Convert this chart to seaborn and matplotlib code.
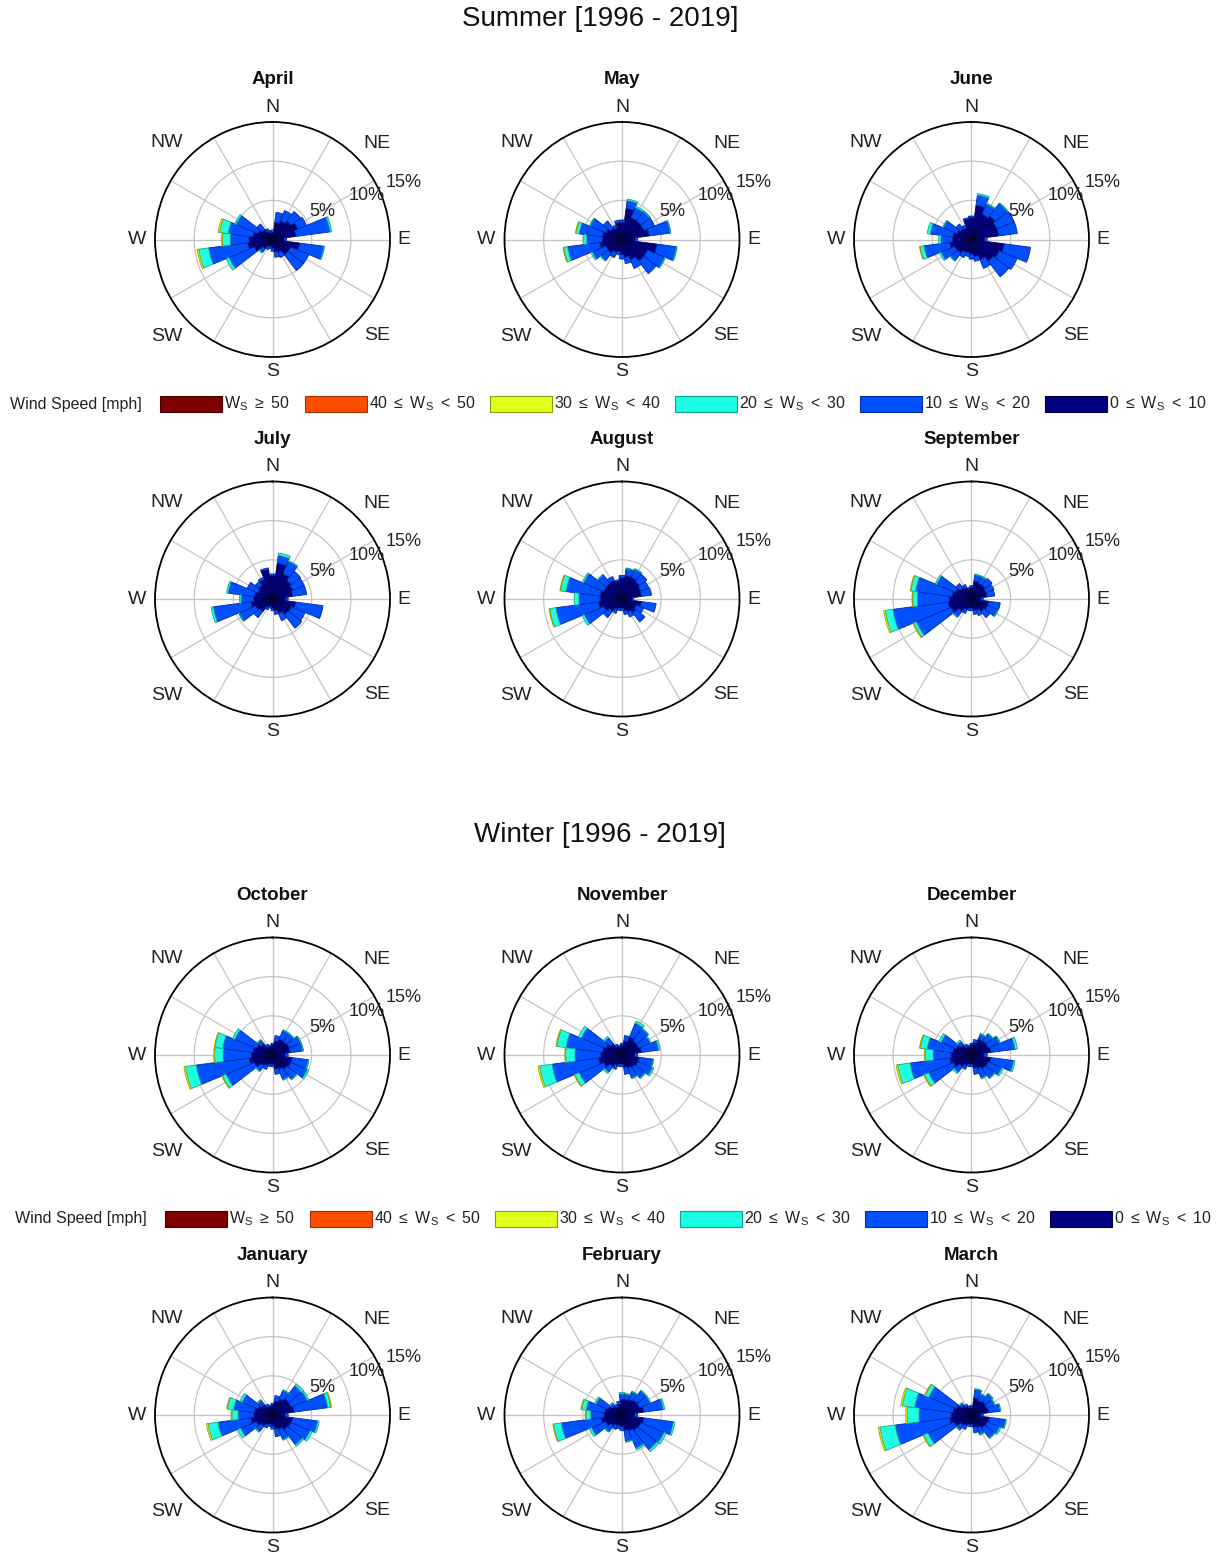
import numpy as np
import matplotlib
matplotlib.use("Agg")
import matplotlib.pyplot as plt
import seaborn as sns
from matplotlib.patches import Rectangle

# ---------------- data (percent of time, 24 direction bins, bearing 0..345 step 15) -------------
directions = [0, 15, 30, 45, 60, 75, 90, 105, 120, 135, 150, 165,
              180, 195, 210, 225, 240, 255, 270, 285, 300, 315, 330, 345]

speed_labels = [r"$\mathrm{W_S\ \geq\ 50}$", r"$\mathrm{40\ \leq\ W_S\ <\ 50}$",
                r"$\mathrm{30\ \leq\ W_S\ <\ 40}$", r"$\mathrm{20\ \leq\ W_S\ <\ 30}$",
                r"$\mathrm{10\ \leq\ W_S\ <\ 20}$", r"$\mathrm{0\ \leq\ W_S\ <\ 10}$"]

apr_0_10 = [0.9, 2.2, 2.6, 3.0, 3.5, 3.0, 1.5, 3.5, 2.5, 2.5, 1.8, 1.6, 1.1, 0.9, 1.0, 1.5, 2.5, 3.2, 3.0, 2.5, 2.0, 1.6, 1.1, 0.9]
apr_10_20 = [0.3, 1.3, 1.4, 1.5, 1.2, 4.4, 0.3, 3.1, 2.5, 2.5, 0.7, 0.7, 0.4, 0.3, 0.4, 0.6, 3.5, 5.0, 2.4, 3.2, 3.0, 0.9, 0.4, 0.3]
apr_20_30 = [0, 0, 0, 0, 0, 0.2, 0, 0.1, 0, 0, 0, 0, 0, 0, 0, 0.1, 0.4, 1.3, 1.0, 1.1, 0.2, 0, 0, 0]
apr_30_40 = [0, 0, 0, 0, 0, 0, 0, 0, 0, 0, 0, 0, 0, 0, 0, 0, 0, 0.2, 0.1, 0.2, 0, 0, 0, 0]

may_0_10 = [2.2, 4.0, 3.0, 3.0, 3.0, 3.5, 1.7, 4.5, 3.5, 3.5, 2.8, 2.3, 1.9, 1.6, 1.8, 2.2, 2.2, 2.9, 2.5, 2.5, 2.2, 1.8, 1.6, 2.2]
may_10_20 = [0.3, 1.0, 1.4, 1.5, 1.5, 2.7, 0.3, 2.5, 2.4, 2.0, 1.2, 0.8, 0.6, 0.4, 0.7, 1.2, 1.9, 4.1, 2.0, 3.0, 2.2, 1.2, 0.4, 0.3]
may_20_30 = [0, 0.2, 0.2, 0.1, 0, 0.1, 0, 0.1, 0.1, 0, 0, 0, 0, 0, 0, 0.1, 0.2, 0.5, 0.4, 0.4, 0.1, 0, 0, 0]
may_30_40 = [0, 0, 0, 0, 0, 0, 0, 0, 0, 0, 0, 0, 0, 0, 0, 0, 0, 0.1, 0, 0.1, 0, 0, 0, 0]

jun_0_10 = [2.8, 4.4, 3.5, 3.8, 3.5, 3.5, 1.7, 4.2, 3.8, 3.5, 2.8, 2.2, 1.9, 1.7, 1.8, 2.2, 2.3, 2.8, 2.4, 2.4, 2.0, 1.7, 1.6, 2.6]
jun_10_20 = [0.2, 1.3, 1.4, 2.0, 2.4, 2.4, 0.3, 3.4, 2.5, 2.5, 1.2, 0.6, 0.6, 0.5, 0.7, 1.2, 1.9, 3.3, 1.5, 2.9, 1.9, 0.8, 0.4, 0.2]
jun_20_30 = [0, 0.2, 0.1, 0.1, 0, 0, 0, 0, 0, 0, 0, 0, 0, 0, 0, 0.1, 0.2, 0.5, 0.3, 0.4, 0.1, 0, 0, 0]
jun_30_40 = [0, 0, 0, 0, 0, 0, 0, 0, 0, 0, 0, 0, 0, 0, 0, 0, 0, 0.1, 0, 0, 0, 0, 0, 0]

jul_0_10 = [3.0, 4.6, 3.5, 3.0, 2.8, 2.6, 1.7, 3.0, 2.6, 2.5, 2.0, 1.5, 1.2, 1.0, 1.2, 2.0, 2.3, 2.8, 2.4, 2.3, 2.0, 2.2, 2.7, 3.8]
jul_10_20 = [0.2, 1.0, 1.7, 1.5, 1.6, 1.8, 0.3, 3.5, 1.9, 2.2, 1.0, 0.5, 0.3, 0.2, 0.3, 1.0, 2.3, 4.8, 1.6, 3.4, 1.5, 0.6, 0.3, 0.2]
jul_20_30 = [0, 0.3, 0.1, 0, 0, 0, 0, 0, 0, 0, 0, 0, 0, 0, 0, 0, 0.1, 0.3, 0.2, 0.2, 0, 0, 0, 0]
jul_30_40 = [0, 0, 0, 0, 0, 0, 0, 0, 0, 0, 0, 0, 0, 0, 0, 0, 0, 0, 0, 0, 0, 0, 0, 0]

aug_0_10 = [2.7, 3.0, 3.0, 2.8, 2.6, 2.5, 1.3, 2.5, 2.0, 2.2, 1.8, 1.5, 1.2, 1.2, 1.5, 2.0, 2.5, 3.0, 2.8, 2.8, 2.5, 2.5, 2.6, 2.3]
aug_10_20 = [0.3, 0.9, 1.1, 1.2, 1.1, 1.3, 0.2, 1.9, 1.0, 1.5, 0.7, 0.5, 0.3, 0.3, 0.5, 1.0, 2.7, 5.5, 2.7, 4.4, 2.8, 1.4, 0.5, 0.2]
aug_20_30 = [0, 0.1, 0.1, 0, 0, 0, 0, 0, 0, 0, 0, 0, 0, 0, 0, 0, 0.3, 0.8, 0.6, 0.7, 0.2, 0.1, 0, 0]
aug_30_40 = [0, 0, 0, 0, 0, 0, 0, 0, 0, 0, 0, 0, 0, 0, 0, 0, 0, 0.1, 0, 0.1, 0, 0, 0, 0]

sep_0_10 = [1.5, 2.3, 2.2, 2.2, 2.0, 2.0, 1.2, 2.2, 2.2, 2.0, 1.6, 1.5, 1.2, 1.2, 1.5, 2.0, 2.8, 3.0, 2.8, 2.5, 2.2, 1.8, 1.6, 1.3]
sep_10_20 = [0.2, 0.8, 0.9, 1.1, 1.1, 1.0, 0.3, 1.5, 1.4, 1.0, 0.7, 0.5, 0.3, 0.3, 0.5, 0.9, 4.8, 7.1, 4.1, 4.7, 2.6, 0.7, 0.4, 0.2]
sep_20_30 = [0, 0.1, 0.1, 0, 0, 0, 0, 0, 0.1, 0, 0, 0, 0, 0, 0, 0.1, 0.4, 1.0, 0.6, 0.6, 0.2, 0, 0, 0]
sep_30_40 = [0, 0, 0, 0, 0, 0, 0, 0, 0, 0, 0, 0, 0, 0, 0, 0, 0.1, 0.2, 0.1, 0.1, 0, 0, 0, 0]

oct_0_10 = [1.3, 1.8, 2.2, 2.2, 2.3, 2.3, 1.6, 2.5, 2.5, 2.3, 2.0, 1.8, 1.2, 1.2, 1.5, 1.8, 2.5, 3.0, 2.7, 2.5, 2.2, 1.8, 1.2, 1.1]
oct_10_20 = [0.2, 0.7, 1.2, 1.2, 1.6, 1.6, 0.4, 2.1, 2.3, 1.6, 1.4, 0.7, 0.3, 0.3, 0.5, 0.8, 3.9, 6.8, 3.6, 3.9, 3.0, 0.6, 0.3, 0.2]
oct_20_30 = [0, 0, 0.1, 0.1, 0.1, 0.1, 0, 0.1, 0.2, 0.1, 0.1, 0, 0, 0, 0, 0.1, 0.5, 1.4, 1.1, 1.0, 0.3, 0.1, 0, 0]
oct_30_40 = [0, 0, 0, 0, 0, 0, 0, 0, 0, 0, 0, 0, 0, 0, 0, 0, 0.1, 0.2, 0.1, 0.1, 0, 0, 0, 0]

nov_0_10 = [1.3, 1.8, 2.5, 2.3, 2.3, 2.5, 1.6, 2.2, 2.2, 2.0, 1.8, 1.6, 1.2, 1.2, 1.5, 1.9, 2.5, 3.0, 2.7, 2.5, 2.2, 1.8, 1.2, 1.1]
nov_10_20 = [0.2, 0.7, 1.9, 1.9, 1.6, 2.2, 0.4, 1.8, 2.0, 1.7, 1.4, 0.9, 0.3, 0.3, 0.5, 0.9, 3.4, 6.0, 3.3, 4.7, 3.4, 1.0, 0.3, 0.2]
nov_20_30 = [0, 0, 0.3, 0.1, 0.1, 0.2, 0, 0.1, 0.2, 0.1, 0.1, 0, 0, 0, 0, 0.2, 0.6, 1.6, 1.2, 1.2, 0.4, 0.2, 0, 0]
nov_30_40 = [0, 0, 0, 0, 0, 0, 0, 0, 0, 0, 0, 0, 0, 0, 0, 0, 0.1, 0.2, 0.1, 0.1, 0, 0, 0, 0]

dec_0_10 = [1.3, 1.6, 2.2, 2.3, 2.3, 2.5, 1.6, 2.5, 2.3, 2.2, 1.9, 1.7, 1.2, 1.2, 1.5, 1.9, 2.5, 2.8, 2.6, 2.4, 2.1, 1.6, 1.2, 1.1]
dec_10_20 = [0.2, 0.4, 0.7, 1.1, 1.6, 3.1, 0.4, 2.9, 1.9, 1.5, 1.3, 0.8, 0.3, 0.3, 0.5, 0.9, 3.4, 5.1, 2.3, 3.3, 2.1, 0.6, 0.3, 0.2]
dec_20_30 = [0, 0, 0.1, 0.1, 0.1, 0.3, 0, 0.2, 0.2, 0.1, 0.1, 0, 0, 0, 0, 0.2, 0.6, 1.6, 1.0, 0.9, 0.3, 0.2, 0, 0]
dec_30_40 = [0, 0, 0, 0, 0, 0, 0, 0, 0, 0, 0, 0, 0, 0, 0, 0, 0.1, 0.2, 0.1, 0.1, 0, 0, 0, 0]

jan_0_10 = [1.3, 1.8, 2.3, 2.6, 2.6, 2.8, 1.6, 2.6, 2.5, 2.4, 2.0, 1.8, 1.4, 1.2, 1.4, 1.8, 2.2, 2.8, 2.4, 2.3, 2.0, 1.7, 1.2, 1.1]
jan_10_20 = [0.2, 0.7, 1.1, 2.1, 2.2, 4.3, 0.4, 3.2, 2.7, 2.4, 1.4, 1.0, 0.4, 0.3, 0.4, 0.9, 2.2, 4.2, 2.0, 2.7, 2.2, 0.7, 0.3, 0.2]
jan_20_30 = [0, 0, 0.1, 0.3, 0.2, 0.4, 0, 0.2, 0.3, 0.2, 0.1, 0, 0, 0, 0, 0.1, 0.4, 1.3, 0.8, 0.8, 0.3, 0.1, 0, 0]
jan_30_40 = [0, 0, 0, 0, 0, 0.1, 0, 0, 0, 0, 0, 0, 0, 0, 0, 0, 0, 0.2, 0.1, 0.1, 0, 0, 0, 0]

feb_0_10 = [2.0, 2.0, 2.2, 2.4, 2.4, 2.8, 1.6, 2.8, 2.6, 2.5, 2.2, 2.0, 1.5, 1.4, 1.5, 1.8, 2.2, 2.7, 2.3, 2.2, 1.9, 1.5, 1.2, 1.4]
feb_10_20 = [0.7, 0.7, 1.0, 1.5, 1.5, 2.5, 0.4, 3.8, 3.2, 3.1, 2.4, 1.4, 0.5, 0.4, 0.5, 0.9, 2.0, 5.1, 1.7, 2.4, 1.7, 0.4, 0.3, 0.4]
feb_20_30 = [0.2, 0.1, 0.1, 0.1, 0.1, 0.2, 0, 0.2, 0.3, 0.3, 0.2, 0.1, 0, 0, 0, 0.1, 0.3, 1.0, 0.6, 0.6, 0.2, 0.1, 0, 0]
feb_30_40 = [0, 0, 0, 0, 0, 0, 0, 0, 0, 0, 0, 0, 0, 0, 0, 0, 0, 0.1, 0.1, 0.1, 0, 0, 0, 0]

mar_0_10 = [1.0, 2.2, 2.0, 2.2, 2.1, 2.2, 1.2, 2.3, 2.2, 2.1, 1.8, 1.6, 1.2, 1.2, 1.5, 1.7, 2.4, 2.8, 2.6, 2.4, 2.1, 1.5, 1.2, 1.0]
mar_10_20 = [0.2, 1.1, 0.9, 1.2, 1.1, 1.5, 0.3, 2.1, 1.7, 1.6, 0.9, 0.7, 0.3, 0.3, 0.5, 0.7, 3.6, 7.0, 4.1, 4.9, 3.8, 0.4, 0.3, 0.2]
mar_20_30 = [0, 0.1, 0.1, 0.1, 0.1, 0.1, 0, 0.1, 0.2, 0.1, 0.1, 0, 0, 0, 0, 0.1, 0.6, 2.0, 1.5, 1.6, 0.5, 0.1, 0, 0]
mar_30_40 = [0, 0, 0, 0, 0, 0, 0, 0, 0, 0, 0, 0, 0, 0, 0, 0, 0.1, 0.2, 0.2, 0.2, 0.1, 0, 0, 0]

summer_months = ["April", "May", "June", "July", "August", "September"]
winter_months = ["October", "November", "December", "January", "February", "March"]
month_data = {
    "April": [apr_0_10, apr_10_20, apr_20_30, apr_30_40],
    "May": [may_0_10, may_10_20, may_20_30, may_30_40],
    "June": [jun_0_10, jun_10_20, jun_20_30, jun_30_40],
    "July": [jul_0_10, jul_10_20, jul_20_30, jul_30_40],
    "August": [aug_0_10, aug_10_20, aug_20_30, aug_30_40],
    "September": [sep_0_10, sep_10_20, sep_20_30, sep_30_40],
    "October": [oct_0_10, oct_10_20, oct_20_30, oct_30_40],
    "November": [nov_0_10, nov_10_20, nov_20_30, nov_30_40],
    "December": [dec_0_10, dec_10_20, dec_20_30, dec_30_40],
    "January": [jan_0_10, jan_10_20, jan_20_30, jan_30_40],
    "February": [feb_0_10, feb_10_20, feb_20_30, feb_30_40],
    "March": [mar_0_10, mar_10_20, mar_20_30, mar_30_40],
}

# ---------------- style ----------------
sns.set_theme(style="white")
plt.rcParams["font.family"] = ["Liberation Sans", "DejaVu Sans"]
plt.rcParams["mathtext.fontset"] = "custom"
plt.rcParams["mathtext.rm"] = "Liberation Sans"
plt.rcParams["mathtext.it"] = "Liberation Sans:italic"
plt.rcParams["mathtext.bf"] = "Liberation Sans:bold"

legend_colors = ["#800000", "#ff4d00", "#e2ff1c", "#1cffe2", "#0050ff", "#000080"]
legend_edges = ["#400000", "#a03000", "#8a9a10", "#10a090", "#0030a0", "#000040"]
# stacking order inner -> outer : 0-10, 10-20, 20-30, 30-40
stack_colors = ["#000080", "#0050ff", "#1cffe2", "#e2ff1c"]
stack_edges = ["#00003a", "#0028a0", "#0fa58f", "#9aa010"]

W, H = 1220, 1556
DPI = 100
fig = plt.figure(figsize=(W / DPI, H / DPI), dpi=DPI)
fig.patch.set_facecolor("white")

R = 117.5  # px radius of the 15 % circle
col_x = [272.5, 622, 971.5]
row_y = [239.5, 599, 1055, 1415]
RMAX = 15.0


def fx(x):
    return x / W


def fy(y):
    return 1 - y / H


compass = [("N", 0, 16.9), ("NE", 47.5, 18.1), ("E", 90, 16.8), ("SE", 132.5, 18.1),
           ("S", 180, 16.9), ("SW", 227.5, 18.3), ("W", 270, 17.3), ("NW", 312.5, 18.3)]


def draw_rose(cx, cy, name):
    ax = fig.add_axes([fx(cx - R), fy(cy + R), 2 * R / W, 2 * R / H], projection="polar")
    ax.set_theta_zero_location("N")
    ax.set_theta_direction(-1)
    ax.set_ylim(0, RMAX)
    ax.set_rgrids([5, 10], labels=["", ""])
    ax.set_thetagrids(np.arange(0, 360, 30), labels=[""] * 12)
    ax.grid(True, color="#c4c4c4", linewidth=0.9)
    ax.set_axisbelow(True)
    ax.spines["polar"].set_color("black")
    ax.spines["polar"].set_linewidth(1.3)
    ax.set_facecolor("white")

    theta = np.deg2rad(np.array(directions, dtype=float))
    width = np.deg2rad(15)
    bottom = np.zeros(len(directions))
    for vals, col, ed in zip(month_data[name], stack_colors, stack_edges):
        v = np.array(vals, dtype=float)
        m = v > 0
        if m.any():
            ax.bar(theta[m], v[m], width=width, bottom=bottom[m], color=col,
                   edgecolor=ed, linewidth=0.6, zorder=3, align="center")
        bottom += v

    for lab, ang, r in compass:
        ax.text(np.deg2rad(ang), r, lab, ha="center", va="center", fontsize=14, color="#222222")
    for lab, ang, r in [("5%", 61, 7.3), ("10%", 65, 13.2), ("15%", 66.5, 18.3)]:
        ax.text(np.deg2rad(ang), r, lab, ha="center", va="center", fontsize=13, color="#222222")

    fig.text(fx(cx), fy(cy - 160), name, ha="center", va="center",
             fontsize=13.5, fontweight="bold", color="#111111")


for i, name in enumerate(summer_months):
    draw_rose(col_x[i % 3], row_y[i // 3], name)
for i, name in enumerate(winter_months):
    draw_rose(col_x[i % 3], row_y[2 + i // 3], name)

fig.text(fx(600), fy(19), "Summer [1996 - 2019]", ha="center", va="center", fontsize=20, color="#111111")
fig.text(fx(600), fy(835), "Winter [1996 - 2019]", ha="center", va="center", fontsize=20, color="#111111")


def draw_legend(y, dx):
    fig.text(fx(10 + dx), fy(y), "Wind Speed [mph]", ha="left", va="center", fontsize=11.5, color="#222222")
    lefts = [160, 305, 490, 675, 860, 1045]
    for left, col, ed, lab in zip(lefts, legend_colors, legend_edges, speed_labels):
        fig.add_artist(Rectangle((fx(left + dx), fy(y + 8)), 62 / W, 16 / H,
                                 transform=fig.transFigure, facecolor=col, edgecolor=ed, linewidth=0.8))
        fig.text(fx(left + dx + 64), fy(y), lab, ha="left", va="center", fontsize=11.5, color="#222222")


draw_legend(404, 0)
draw_legend(1219, 5)

fig.savefig("out.png", dpi=DPI, facecolor="white")
